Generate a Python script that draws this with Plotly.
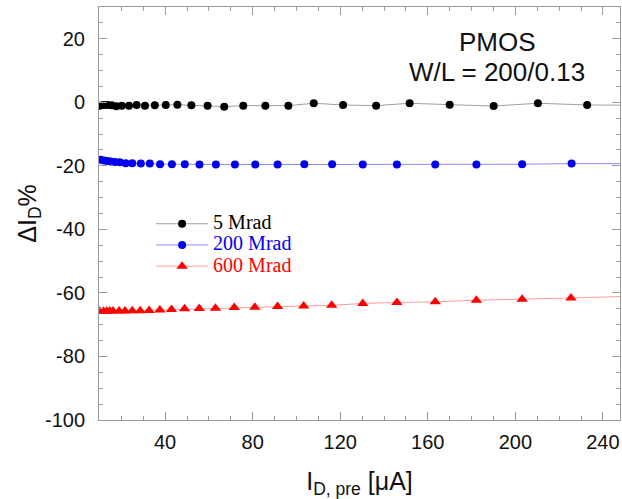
import plotly.graph_objects as go

# 5 Mrad
x_5 = [10.1, 11.8, 13.6, 15.6, 17.7, 20.2, 23.5, 27.0, 30.8, 35.3, 40.3, 45.6, 52.0, 59.4,
       67.0, 75.7, 85.8, 96.3, 107.9, 121.3, 136.4, 151.7, 170.0, 190.1, 210.3, 232.8]
y_5 = [-1.05, -0.84, -0.84, -0.95, -1.26, -1.05, -1.05, -0.84, -1.05, -0.95, -0.84, -0.74, -0.95, -1.05,
       -1.37, -1.05, -1.05, -1.05, -0.3, -0.84, -1.05, -0.3, -0.74, -1.16, -0.3, -0.84]
# 200 Mrad
x_200 = [10.6, 12.1, 13.6, 15.1, 17.1, 19.3, 22.0, 25.0, 28.9, 33.0, 37.7, 43.1, 49.0, 55.7,
         63.2, 71.9, 81.2, 91.4, 103.6, 116.3, 130.3, 145.9, 163.4, 182.2, 203.1, 225.7]
y_200 = [-18.1, -18.3, -18.5, -18.6, -18.8, -18.9, -19.2, -19.2, -19.3, -19.3, -19.5, -19.5, -19.5, -19.6,
         -19.6, -19.6, -19.6, -19.6, -19.5, -19.5, -19.6, -19.6, -19.6, -19.6, -19.5, -19.3]
# 600 Mrad
x_600 = [10.1, 11.8, 13.3, 14.7, 16.2, 19.0, 21.7, 25.0, 28.6, 32.7, 37.6, 42.9, 48.9, 55.6,
         63.0, 71.6, 81.0, 91.4, 103.3, 116.1, 130.3, 145.9, 163.4, 182.2, 203.1, 225.4]
y_600 = [-65.75, -65.75, -65.75, -65.7, -65.7, -65.7, -65.7, -65.6, -65.6, -65.5, -65.4, -65.2, -65.0, -64.9,
         -64.8, -64.6, -64.5, -64.3, -64.1, -63.9, -63.3, -63.0, -62.8, -62.3, -62.0, -61.6]

# line continuation to the right frame edge
x_end = 250
y_end = {"5": -0.9, "200": -19.3, "600": -61.1}

# tick labels
x_ticks = [40, 80, 120, 160, 200, 240]
x_ticktext = ["40", "80", "120", "160", "200", "240"]
y_ticks = [-100, -80, -60, -40, -20, 0, 20]
y_ticktext = ["-100", "-80", "-60", "-40", "-20", "0", "20"]

names = ["5 Mrad", "200 Mrad", "600 Mrad"]
keys = ["5", "200", "600"]
xs = [x_5, x_200, x_600]
ys = [y_5, y_200, y_600]
mcolors = ["#000000", "#0000ee", "#ff0000"]
lcolors = ["#a0a0a0", "#8c8cff", "#ff9a9a"]
symbols = ["circle", "circle", "triangle-up"]
msizes = [8, 8, 10]
tcolors = ["#000000", "#0000ee", "#ff0000"]

fig = go.Figure()
for n, k, x, y, mc, lc, s, ms, tc in zip(names, keys, xs, ys, mcolors, lcolors, symbols, msizes, tcolors):
    fig.add_trace(go.Scatter(x=[x[-1], x_end], y=[y[-1], y_end[k]], mode="lines",
                             line=dict(color=lc, width=1), showlegend=False, hoverinfo="skip"))
    fig.add_trace(go.Scatter(x=x, y=y, mode="lines+markers",
                             name=f'<span style="color:{tc};font-size:20px">{n}</span>',
                             line=dict(color=lc, width=1),
                             marker=dict(color=mc, symbol=s, size=ms, line=dict(width=0))))

axis_common = dict(showline=True, linecolor="#9a9a9a", linewidth=1, mirror="ticks",
                   ticks="inside", ticklen=8, tickcolor="#9a9a9a", showgrid=False, zeroline=False,
                   tickfont=dict(family="Liberation Sans", size=20, color="#111111"))

fig.update_xaxes(range=[9.8, 247.8], tickvals=x_ticks, ticktext=x_ticktext,
                 minor=dict(dtick=10, tick0=0, ticks="inside", ticklen=4, tickcolor="#9a9a9a"),
                 ticklabelstandoff=4,
                 title=dict(text="I<sub>D, pre</sub> [μA]", font=dict(family="Liberation Sans", size=25, color="#111111"),
                            standoff=22),
                 **axis_common)
fig.update_yaxes(range=[-100, 30], tickvals=y_ticks, ticktext=y_ticktext,
                 minor=dict(dtick=5, tick0=0, ticks="inside", ticklen=4, tickcolor="#9a9a9a"),
                 ticklabelstandoff=9,
                 title=dict(text="ΔI<sub>D</sub>%", font=dict(family="Liberation Sans", size=25, color="#111111"),
                            standoff=1),
                 **axis_common)

fig.add_annotation(x=0.764, y=(420 - 42) / 413, xref="paper", yref="paper", showarrow=False,
                   xanchor="center", yanchor="middle", text="PMOS",
                   font=dict(family="Liberation Sans", size=26, color="#111111"))
fig.add_annotation(x=0.764, y=(420 - 72) / 413, xref="paper", yref="paper", showarrow=False,
                   xanchor="center", yanchor="middle", text="W/L = 200/0.13",
                   font=dict(family="Liberation Sans", size=26, color="#111111"))

fig.update_layout(width=622, height=499, margin=dict(l=99, r=2, t=7, b=79),
                  plot_bgcolor="white", paper_bgcolor="white",
                  legend=dict(x=0.1, y=0.513, xanchor="left", yanchor="top",
                              bgcolor="rgba(0,0,0,0)", itemwidth=52, tracegroupgap=0,
                              font=dict(family="Liberation Serif", size=14)),
                  showlegend=True)

fig.write_html("out.html")
